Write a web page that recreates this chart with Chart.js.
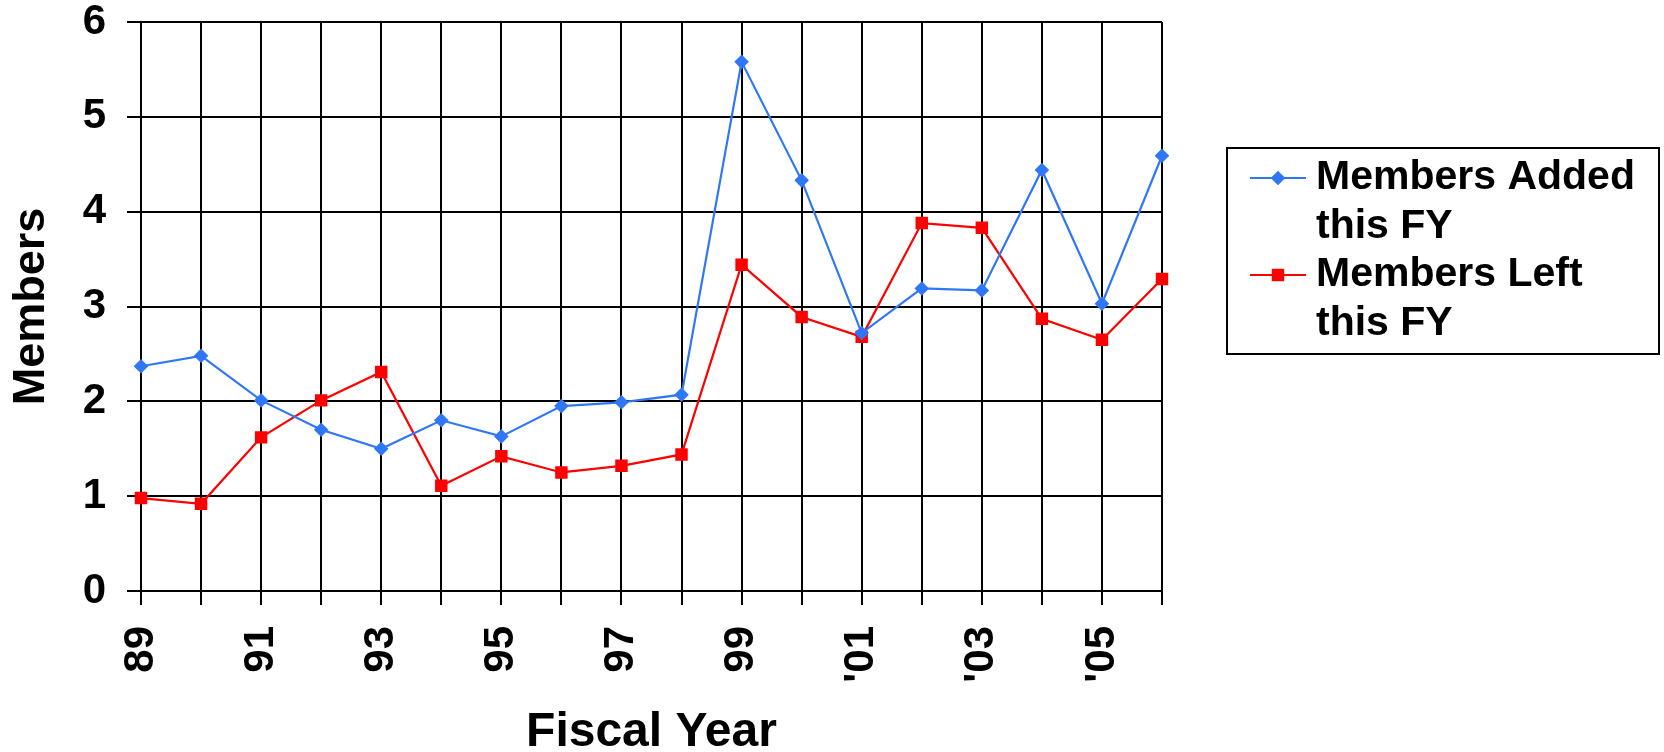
<!DOCTYPE html>
<html>
<head>
<meta charset="utf-8">
<script src="https://cdn.jsdelivr.net/npm/chart.js@4/dist/chart.umd.min.js"></script>
<style>
  html, body { margin: 0; padding: 0; background: #ffffff; }
  #wrap { width: 1664px; height: 752px; position: relative; }
</style>
</head>
<body>
<div id="wrap"><canvas id="c" width="1664" height="752"></canvas></div>
<script>
// ---- data ----
const years = ['89','90','91','92','93','94','95','96','97','98','99',"'00","'01","'02","'03","'04","'05","'06"];
const membersAdded = [2.37, 2.48, 2.01, 1.70, 1.50, 1.80, 1.63, 1.95, 1.99, 2.07, 5.58, 4.33, 2.72, 3.19, 3.17, 4.44, 3.03, 4.59];
const membersLeft  = [0.98, 0.92, 1.62, 2.01, 2.31, 1.11, 1.42, 1.25, 1.32, 1.44, 3.44, 2.89, 2.68, 3.88, 3.83, 2.87, 2.65, 3.29];
const seriesNames = [['Members Added', 'this FY'], ['Members Left', 'this FY']];
const yTitle = 'Members';
const xTitle = 'Fiscal Year';

const FONT = "'Liberation Sans', Arial, Helvetica, sans-serif";
const BLUE = '#2F77F7';
const RED = '#FF0000';

// custom boxed legend with two-line labels
const boxLegend = {
  id: 'boxLegend',
  afterDraw(chart) {
    const ctx = chart.ctx;
    const bx = 1227, by = 148, bw = 432, bh = 206;
    ctx.save();
    ctx.strokeStyle = '#000';
    ctx.lineWidth = 2;
    ctx.strokeRect(bx, by, bw, bh);
    ctx.font = 'bold 41px ' + FONT;
    ctx.textBaseline = 'middle';
    ctx.textAlign = 'left';
    const lineGap = 48.5;
    chart.data.datasets.forEach((ds, i) => {
      const lines = seriesNames[i];
      const y0 = by + 30 + i * 2 * lineGap;
      ctx.strokeStyle = ds.borderColor;
      ctx.lineWidth = ds.borderWidth;
      ctx.beginPath();
      ctx.moveTo(1250, y0);
      ctx.lineTo(1306, y0);
      ctx.stroke();
      ctx.fillStyle = ds.backgroundColor;
      Chart.helpers.drawPoint(ctx, {
        pointStyle: ds.pointStyle, rotation: 0, borderWidth: 0, radius: ds.pointRadius
      }, 1278, y0);
      ctx.fillStyle = '#000';
      lines.forEach((t, k) => ctx.fillText(t, 1316, y0 + k * lineGap));
    });
    ctx.restore();
  }
};

new Chart(document.getElementById('c'), {
  type: 'line',
  data: {
    labels: years,
    datasets: [
      {
        label: seriesNames[0].join(' '),
        data: membersAdded,
        borderColor: BLUE,
        backgroundColor: BLUE,
        borderWidth: 2.2,
        pointStyle: 'rectRot',
        pointRadius: 7.3,
        pointBorderWidth: 0,
        tension: 0
      },
      {
        label: seriesNames[1].join(' '),
        data: membersLeft,
        borderColor: RED,
        backgroundColor: RED,
        borderWidth: 2.2,
        pointStyle: 'rect',
        pointRadius: 8.8,
        pointBorderWidth: 0,
        tension: 0
      }
    ]
  },
  options: {
    responsive: false,
    animation: false,
    devicePixelRatio: 1,
    layout: { padding: { top: 22, right: 502, left: 0, bottom: 0 } },
    plugins: {
      legend: { display: false },
      tooltip: { enabled: false }
    },
    scales: {
      x: {
        type: 'category',
        offset: false,
        grid: { color: '#000', lineWidth: 2, tickLength: 14, drawTicks: true, tickColor: '#000' },
        border: { display: true, color: '#000', width: 2 },
        ticks: {
          autoSkip: false,
          maxRotation: 90,
          minRotation: 90,
          padding: 21,
          color: '#000',
          font: { family: FONT, size: 42, weight: 'bold' },
          callback: function (v, i) { return i % 2 === 0 ? this.getLabelForValue(v) : ''; }
        },
        title: {
          display: true,
          text: xTitle,
          color: '#000',
          font: { family: FONT, size: 48, weight: 'bold' },
          padding: { top: 0, bottom: -10 }
        },
        afterFit(s) { s.height = 161; s.paddingLeft = 0; s.paddingRight = 0; }
      },
      y: {
        min: 0,
        max: 6,
        grid: { color: '#000', lineWidth: 2, tickLength: 14, drawTicks: true, tickColor: '#000' },
        border: { display: true, color: '#000', width: 2 },
        ticks: {
          stepSize: 1,
          padding: 21,
          color: '#000',
          font: { family: FONT, size: 42, weight: 'bold' }
        },
        title: {
          display: true,
          text: yTitle,
          color: '#000',
          font: { family: FONT, size: 45, weight: 'bold' },
          padding: { top: 4.5, bottom: 0 }
        },
        afterFit(s) { s.width = 141; s.paddingTop = 0; s.paddingBottom = 0; }
      }
    }
  },
  plugins: [boxLegend]
});
</script>
</body>
</html>
